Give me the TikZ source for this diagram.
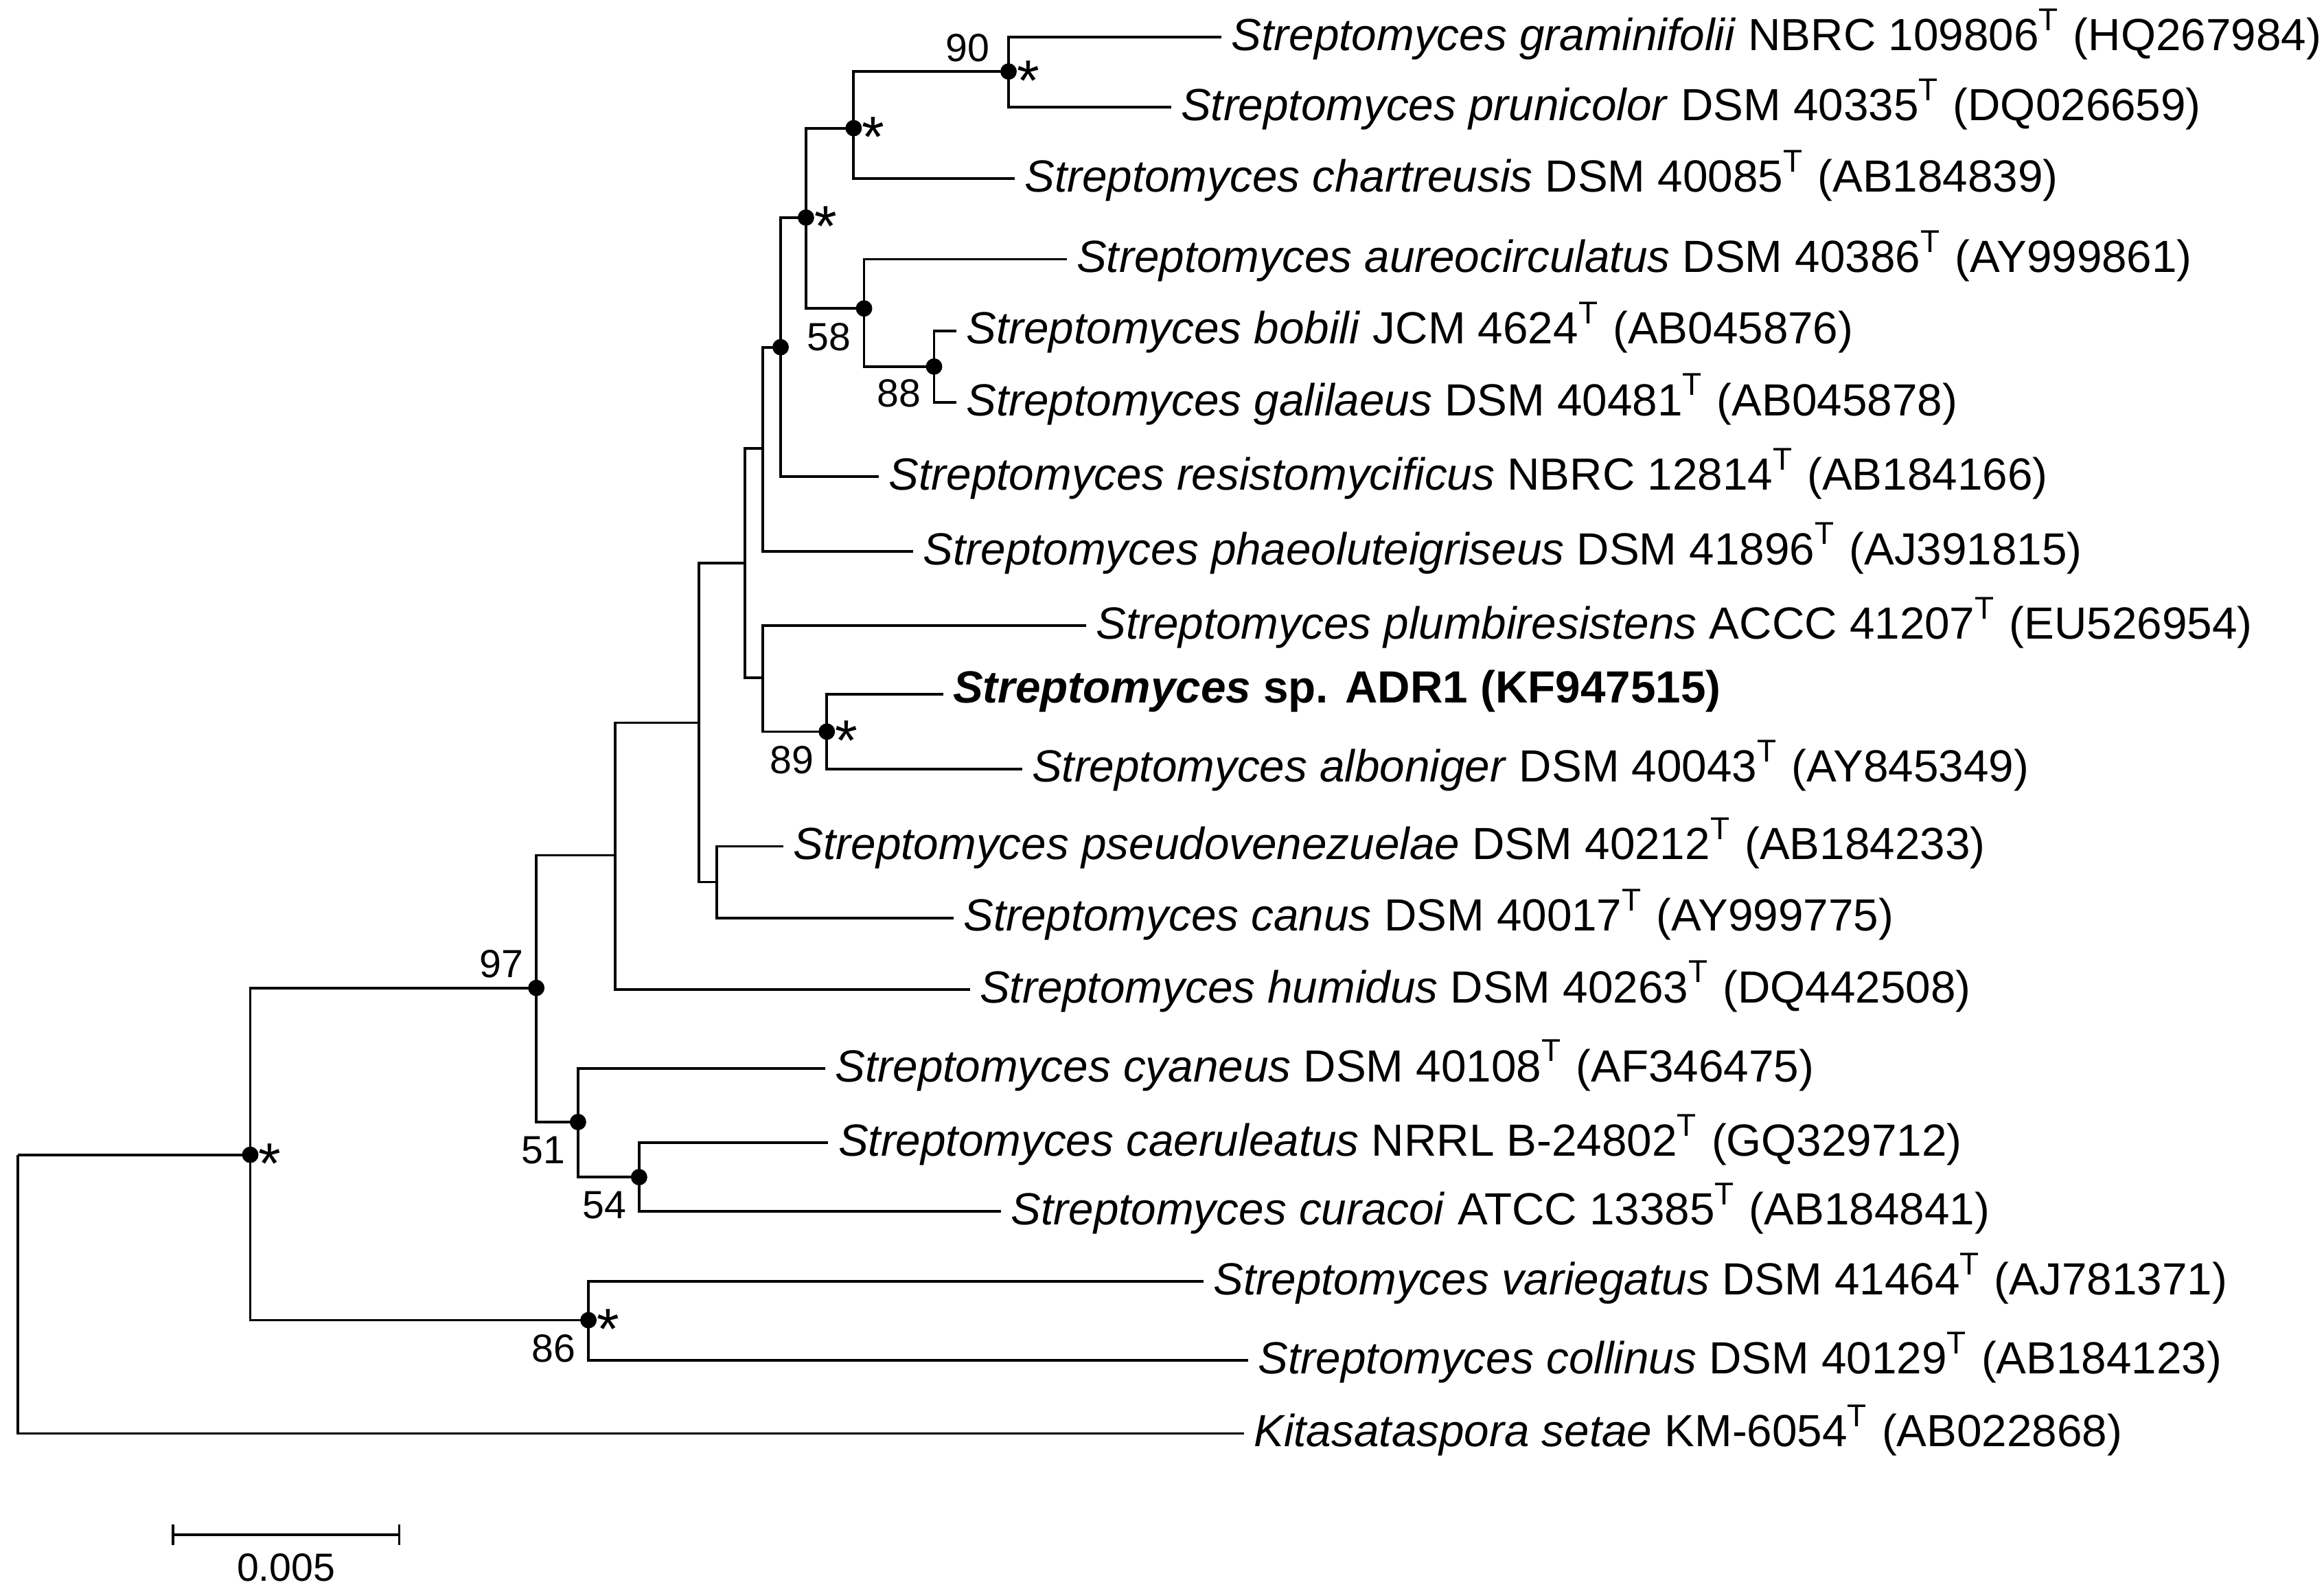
\documentclass[tikz,border=0pt]{standalone}
\usepackage{fontspec}
\setmainfont{Liberation Sans}
\begin{document}
\begin{tikzpicture}[x=0.01cm,y=-0.01cm,
  br/.style={line width=0.5pt},
  lab/.style={anchor=west,inner sep=0pt,font=\fontsize{8.6}{10}\selectfont},
  bs/.style={inner sep=0pt,font=\fontsize{7.5}{9}\selectfont},
  dot/.style={circle,fill=black,inner sep=0pt,minimum size=0.11cm}]
\useasboundingbox (0,0) rectangle (1560,1066);
\newcommand{\leaf}[5]{\coordinate (#1) at (#2,#3); \node[lab] (#1t) at (#2+6,#3-2) {\textit{#4} #5};}
\newcommand{\Tsup}{\textsuperscript{T}}
\leaf{l1}{820}{25}{Streptomyces graminifolii}{NBRC 109806\Tsup{} (HQ267984)}
\leaf{l2}{786}{72}{Streptomyces prunicolor}{DSM 40335\Tsup{} (DQ026659)}
\leaf{l3}{681}{120}{Streptomyces chartreusis}{DSM 40085\Tsup{} (AB184839)}
\leaf{l4}{716}{174}{Streptomyces aureocirculatus}{DSM 40386\Tsup{} (AY999861)}
\leaf{l5}{642}{222}{Streptomyces bobili}{JCM 4624\Tsup{} (AB045876)}
\leaf{l6}{642}{270}{Streptomyces galilaeus}{DSM 40481\Tsup{} (AB045878)}
\leaf{l7}{590}{320}{Streptomyces resistomycificus}{NBRC 12814\Tsup{} (AB184166)}
\leaf{l8}{613}{370}{Streptomyces phaeoluteigriseus}{DSM 41896\Tsup{} (AJ391815)}
\leaf{l9}{729}{420}{Streptomyces plumbiresistens}{ACCC 41207\Tsup{} (EU526954)}
\coordinate (l10) at (633,466); \node[lab] (l10t) at (639,464) {\textbf{\textit{Streptomyces} sp. ADR1 (KF947515)}};
\leaf{l11}{686}{516}{Streptomyces alboniger}{DSM 40043\Tsup{} (AY845349)}
\leaf{l12}{526}{568}{Streptomyces pseudovenezuelae}{DSM 40212\Tsup{} (AB184233)}
\leaf{l13}{640}{616}{Streptomyces canus}{DSM 40017\Tsup{} (AY999775)}
\leaf{l14}{651}{664}{Streptomyces humidus}{DSM 40263\Tsup{} (DQ442508)}
\leaf{l15}{554}{717}{Streptomyces cyaneus}{DSM 40108\Tsup{} (AF346475)}
\leaf{l16}{556}{767}{Streptomyces caeruleatus}{NRRL B-24802\Tsup{} (GQ329712)}
\leaf{l17}{672}{813}{Streptomyces curacoi}{ATCC 13385\Tsup{} (AB184841)}
\leaf{l18}{808}{860}{Streptomyces variegatus}{DSM 41464\Tsup{} (AJ781371)}
\leaf{l19}{838}{913}{Streptomyces collinus}{DSM 40129\Tsup{} (AB184123)}
\leaf{l20}{835}{962}{Kitasataspora setae}{KM-6054\Tsup{} (AB022868)}
% internal nodes
\coordinate (gp) at (677,48);
\coordinate (gpc) at (573,86);
\coordinate (bg) at (627,246);
\coordinate (abg) at (580,207);
\coordinate (top) at (541,146);
\coordinate (r) at (524,233);
\coordinate (ph) at (512,301);
\coordinate (al) at (555,491);
\coordinate (pl) at (512,455);
\coordinate (A) at (500,378);
\coordinate (cc) at (481,592);
\coordinate (B) at (469,485);
\coordinate (C) at (413,574);
\coordinate (cur) at (429,790);
\coordinate (cy) at (388,753);
\coordinate (n97) at (360,663);
\coordinate (n86) at (395,886);
\coordinate (root) at (168,775);
\coordinate (base) at (12,775);
\foreach \p/\c in {gp/l1,gp/l2,gpc/gp,gpc/l3,bg/l5,bg/l6,abg/l4,abg/bg,top/gpc,top/abg,
  r/top,r/l7,ph/r,ph/l8,al/l10,al/l11,pl/l9,pl/al,A/ph,A/pl,cc/l12,cc/l13,B/A,B/cc,
  C/B,C/l14,cur/l16,cur/l17,cy/l15,cy/cur,n97/C,n97/cy,n86/l18,n86/l19,root/n97,root/n86,base/root,base/l20}
  \draw[br] (\p) |- (\c);
\foreach \d in {gp,gpc,bg,abg,top,r,al,cur,cy,n97,n86,root} \node[dot] at (\d) {};
\node[bs,anchor=south east] at (665,42) {90};
\node[bs,anchor=north east] at (619,254) {88};
\node[bs,anchor=north east] at (572,216) {58};
\node[bs,anchor=north east] at (547,500) {89};
\node[bs,anchor=north east] at (421,799) {54};
\node[bs,anchor=north east] at (380,762) {51};
\node[bs,anchor=south east] at (352,657) {97};
\node[bs,anchor=north east] at (387,895) {86};
\foreach \d in {gp,gpc,top,al,n86,root} \node[bs,anchor=west,font=\fontsize{11}{11}\selectfont] at ([xshift=0.05cm,yshift=-0.06cm]\d) {*};
% scale bar
\coordinate (s1) at (116,1030); \coordinate (s2) at (268,1030);
\draw[br] (s1) -- (s2) (s1) ++(0,-7) -- ++(0,14) (s2) ++(0,-7) -- ++(0,14);
\node[bs] (sl) at (192,1052) {0.005};
\end{tikzpicture}
\end{document}
